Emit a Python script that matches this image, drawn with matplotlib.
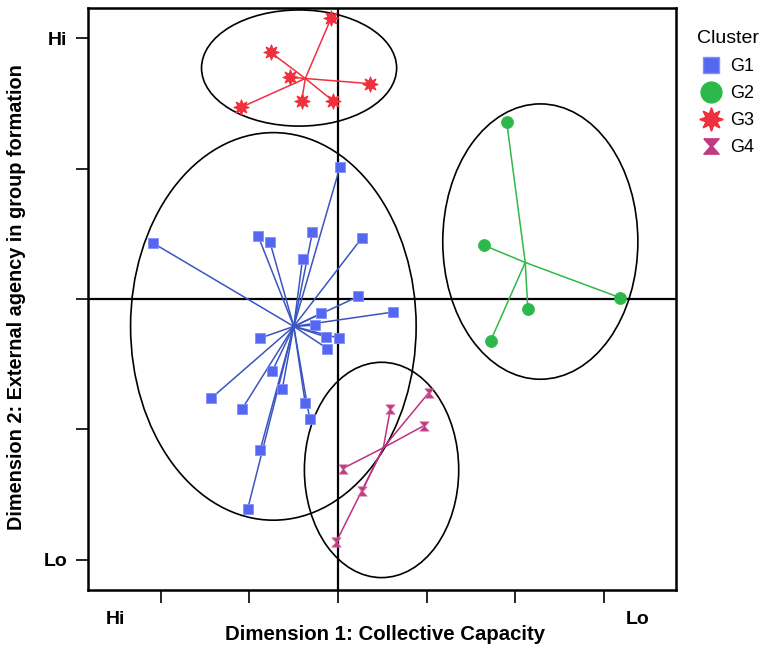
import matplotlib
matplotlib.use("Agg")
import matplotlib.pyplot as plt
from matplotlib.patches import Ellipse
from matplotlib.lines import Line2D
import numpy as np

plt.rcParams['font.family'] = ['Liberation Sans', 'DejaVu Sans']

# Data (Dimension 1, Dimension 2)
g1_x = [0.02, -2.09, -0.90, -0.77, -0.29, -0.40, 0.27, 0.23, 0.62, -0.19, -0.26, -0.14,
        0.01, -0.12, -0.88, -0.74, -0.63, -1.43, -1.08, -0.37, -0.32, -0.88, -1.02]
g1_y = [1.01, 0.43, 0.48, 0.44, 0.51, 0.31, 0.47, 0.02, -0.10, -0.11, -0.20, -0.29,
        -0.30, -0.38, -0.30, -0.55, -0.69, -0.76, -0.84, -0.80, -0.92, -1.16, -1.61]
g2_x = [1.90, 1.65, 2.14, 1.72, 3.18]
g2_y = [1.36, 0.41, -0.08, -0.32, 0.01]
g3_x = [-0.08, -0.76, -0.54, 0.36, -0.41, -0.06, -1.09]
g3_y = [2.15, 1.89, 1.70, 1.65, 1.52, 1.52, 1.47]
g4_x = [0.59, 1.02, 0.97, 0.05, 0.27, -0.02]
g4_y = [-0.84, -0.72, -0.97, -1.30, -1.47, -1.86]

cluster_names = ["G1", "G2", "G3", "G4"]
centroid_x = [-0.50, 2.11, -0.37, 0.51]
centroid_y = [-0.21, 0.28, 1.69, -1.14]
ell_cx = [-0.73, 2.28, -0.44, 0.49]
ell_cy = [-0.21, 0.44, 1.77, -1.31]
ell_w = [3.22, 2.20, 2.20, 1.74]
ell_h = [2.97, 2.11, 0.89, 1.65]

xs = [g1_x, g2_x, g3_x, g4_x]
ys = [g1_y, g2_y, g3_y, g4_y]
mcolors = ["#5566f0", "#2cb84a", "#f0303c", "#c03a80"]
lcolors = ["#3a55c0", "#30b848", "#f03040", "#c03080"]

fig = plt.figure(figsize=(7.63, 6.5), dpi=100)
ax = fig.add_axes([88/763, 1-590/650, (676-88)/763, (590-8)/650])

ax.axhline(0, color="black", lw=1.6, zorder=1)
ax.axvline(0, color="black", lw=1.6, zorder=1)

for i in range(4):
    e = Ellipse((ell_cx[i], ell_cy[i]), ell_w[i], ell_h[i], fill=False,
                edgecolor="black", lw=1.2, zorder=2)
    ax.add_patch(e)

def hourglass_marker():
    return [(-1, 1), (1, 1), (0.12, 0), (1, -1), (-1, -1), (-0.12, 0), (-1, 1)]

for i in range(4):
    for px, py in zip(xs[i], ys[i]):
        ax.plot([centroid_x[i], px], [centroid_y[i], py], color=lcolors[i], lw=1.1, zorder=3)

for i in range(4):
    if i == 0:
        ax.scatter(xs[i], ys[i], marker="s", s=55, c=mcolors[i], edgecolors="#8090ff",
                   linewidths=0.6, zorder=4)
    elif i == 1:
        ax.scatter(xs[i], ys[i], marker="o", s=75, c=mcolors[i], edgecolors=mcolors[i],
                   linewidths=0.5, zorder=4)
    elif i == 2:
        ax.scatter(xs[i], ys[i], marker=(8, 1, 0), s=120, c=mcolors[i], edgecolors=mcolors[i],
                   linewidths=0.8, zorder=4)
    else:
        ax.scatter(xs[i], ys[i], marker=hourglass_marker(), s=45, c=mcolors[i],
                   edgecolors="#d070a0", linewidths=0.5, zorder=4)

ax.set_xlim(-2.82, 3.81)
ax.set_ylim(-2.23, 2.23)

ax.set_xticks([-2, -1, 0, 1, 2, 3])
ax.set_xticklabels([])
ax.set_yticks([2, 1, 0, -1, -2])
ax.set_yticklabels(["Hi", "", "", "", "Lo"], fontsize=14, fontweight="bold")
ax.tick_params(axis="x", length=9, width=1.2, direction="out")
ax.tick_params(axis="y", length=9, width=1.2, direction="out", pad=6)
for s in ax.spines.values():
    s.set_linewidth(1.8)

fig.text(115/763, 1-620/650, "Hi", ha="center", va="center", fontsize=14, fontweight="bold")
fig.text(638/763, 1-620/650, "Lo", ha="center", va="center", fontsize=14, fontweight="bold")
fig.text(385/763, 1-635/650, "Dimension 1: Collective Capacity", ha="center", va="center",
         fontsize=14.7, fontweight="bold")
fig.text(17/763, 1-297/650, "Dimension 2: External agency in group formation", ha="center",
         va="center", rotation=90, fontsize=14.3, fontweight="bold")

handles = [
    Line2D([], [], ls="", marker="s", ms=12, color=mcolors[0], markeredgecolor="#8090ff"),
    Line2D([], [], ls="", marker="o", ms=15, color=mcolors[1]),
    Line2D([], [], ls="", marker=(8, 1, 0), ms=17, color=mcolors[2]),
    Line2D([], [], ls="", marker=hourglass_marker(), ms=11, color=mcolors[3]),
]
leg = fig.legend(handles, cluster_names, title="Cluster", loc="upper left",
                 bbox_to_anchor=(697/763, 1-30/650), frameon=False, fontsize=13,
                 title_fontsize=14, handlelength=1.6, handletextpad=0.25, labelspacing=0.56,
                 borderaxespad=0, borderpad=0)
leg._legend_box.align = "left"
leg._legend_box.sep = 8

fig.savefig("out.png", dpi=100)
